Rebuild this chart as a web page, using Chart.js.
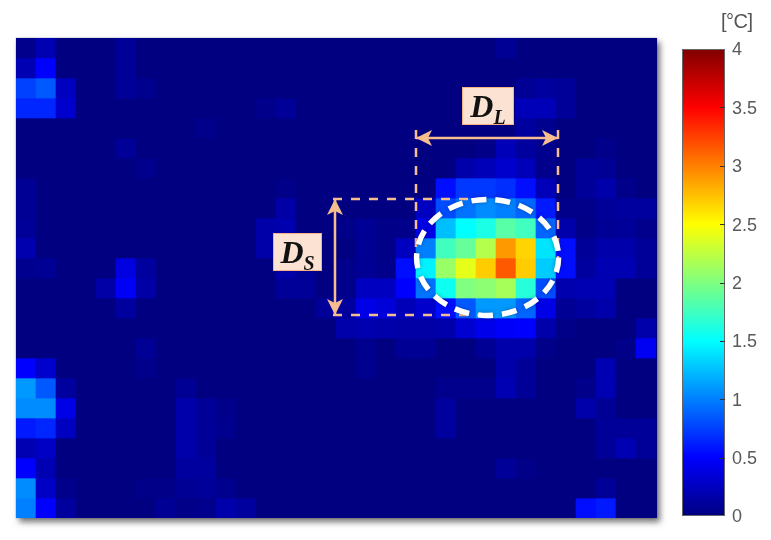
<!DOCTYPE html>
<html>
<head>
<meta charset="utf-8">
<script src="https://cdn.jsdelivr.net/npm/chart.js@4"></script>
<style>
  body { margin: 0; background: #fff; width: 771px; height: 540px; overflow: hidden; position: relative; font-family: "Liberation Sans", Arial, sans-serif; }
  #plot-shadow { position: absolute; left: 16px; top: 38px; width: 641px; height: 480px; background: #000080; box-shadow: 3px 4px 6px rgba(70,70,70,.75), 0 0 1px rgba(90,90,140,.8); }
  canvas { position: absolute; top: 0; }
  #heat { left: 0; filter: blur(.55px); }
  #bar { left: 660px; filter: blur(.3px); }
  #unit { position: absolute; left: 721px; top: 10px; font-size: 20px; letter-spacing: -.5px; color: #555; }
  .tag { position: absolute; box-sizing: border-box; background: #fbe2d2; border: 1px solid #f4b183; color: #111; text-align: center;
         font: italic bold 32px "Liberation Serif", serif; line-height: 36px; filter: blur(.3px); }
  .tag sub { font-size: 20px; line-height: 0; vertical-align: -7px; }
</style>
</head>
<body>
<div id="plot-shadow"></div>
<canvas id="heat" width="771" height="540"></canvas>
<canvas id="bar" width="111" height="540"></canvas>
<div id="unit">[°C]</div>
<div class="tag" style="left:462px;top:87px;width:52px;height:38px"><i>D<sub>L</sub></i></div>
<div class="tag" style="left:273px;top:233px;width:49px;height:38px"><i>D<sub>S</sub></i></div>
<script>
const columnCount = 32
const colourTicks = [0, 0.5, 1, 1.5, 2, 2.5, 3, 3.5, 4]

// temperature per cell in deg C, top row first
const heatRows = [
  [.05,.2,0,0,0,.1,0,0,0,0,0,0,0,0,0,0,0,0,0,0,0,0,0,0,.08,0,0,0,0,0,0,0],
  [.2,.5,0,0,0,.1,0,0,0,0,0,0,0,0,0,0,0,0,0,0,0,0,0,0,0,0,0,0,0,0,0,0],
  [.75,.85,.25,0,0,.1,.06,0,0,0,0,0,0,0,0,0,0,0,0,0,0,0,0,0,0,.08,.12,.1,0,0,0,0],
  [.65,.65,.3,0,0,0,0,0,0,0,0,0,.04,.1,0,0,0,0,0,0,0,0,0,0,0,.22,.22,.1,0,0,0,0],
  [0,0,0,0,0,0,0,0,0,.04,0,0,0,0,0,0,0,0,0,0,0,0,0,0,0,.12,.06,0,0,0,0,0],
  [0,0,0,0,0,.1,0,0,0,0,0,0,0,0,0,0,0,0,0,0,0,0,0,.03,.22,.12,.06,0,0,.04,0,0],
  [0,0,0,0,0,0,.05,0,0,0,0,0,0,0,0,0,0,0,0,0,0,0,.17,.22,.3,.22,.05,0,.1,.08,0,0],
  [.08,0,0,0,0,0,0,0,0,0,0,0,0,.03,0,0,0,0,0,0,0,.55,.72,.72,.68,.55,.22,0,.1,.17,.04,0],
  [.08,0,0,0,0,0,0,0,0,0,0,0,0,.15,0,0,0,0,0,0,.25,.8,.95,1.05,1,.9,.6,.04,.04,.1,.12,.12],
  [.1,0,0,0,0,0,0,0,0,0,0,0,.16,.18,0,0,.03,.08,.03,.04,.4,1.25,1.5,1.6,1.85,1.75,.9,.17,.03,.08,.1,.05],
  [.18,0,0,0,0,0,0,0,0,0,0,0,.16,.08,0,0,0,.08,.03,.25,1,1.75,1.9,2.2,2.9,2.67,1.4,.55,.1,.17,.17,.1],
  [.06,.08,0,0,0,.38,.12,0,0,0,0,0,0,.15,.08,0,.04,.08,.04,.55,1.45,2.1,2.4,2.7,3.15,2.7,1.3,.55,.12,.2,.2,.1],
  [0,0,0,0,.15,.47,.15,0,0,0,0,0,0,.1,.1,0,.04,.25,.25,.5,.95,1.55,2,2.05,2.15,1.65,.8,.18,.2,.2,0,0],
  [0,0,0,0,0,.12,0,0,0,0,0,0,0,0,0,.1,.12,.4,.35,.22,.3,.55,.85,1.1,1.1,.9,.4,.08,.12,.17,0,0],
  [0,0,0,0,0,0,0,0,0,0,0,0,0,0,0,0,.17,.18,.17,.15,.15,.17,.32,.42,.48,.5,.17,.03,0,0,0,.17],
  [0,0,0,0,0,0,.08,0,0,0,0,0,0,0,0,0,0,.06,0,.08,.08,0,0,.08,.17,.17,.03,0,0,0,.03,.45],
  [.5,.3,0,0,0,0,.04,0,0,0,0,0,0,0,0,0,0,.06,0,0,0,0,0,0,.17,.1,0,0,0,.2,0,0],
  [1.1,.85,.12,0,0,0,0,0,.08,0,0,0,0,0,0,0,0,0,0,0,0,.05,.05,.05,.2,.1,0,0,.04,.2,0,0],
  [1.05,1.05,.4,0,0,0,0,0,.17,.1,.04,0,0,0,0,0,0,0,0,0,0,.12,0,0,0,0,0,0,.17,.08,0,0],
  [.6,.65,.25,0,0,0,0,0,.17,.1,.06,0,0,0,0,0,0,0,0,0,0,.12,0,0,0,0,0,0,0,.1,.1,.1],
  [.2,.27,0,0,0,0,0,0,.17,.1,0,0,0,0,0,0,0,0,0,0,0,0,0,0,0,0,0,0,0,.1,.2,.1],
  [.5,.2,0,0,0,0,0,0,.12,.12,0,0,0,0,0,0,0,0,0,0,0,0,0,0,.1,.03,0,0,0,0,0,0],
  [1.05,.27,.04,0,0,0,.03,.03,.08,.1,.06,0,0,0,0,0,0,0,0,0,0,0,0,0,0,0,0,0,0,.1,0,0],
  [1,.5,.12,0,0,0,0,.08,.03,.05,.17,.12,0,0,0,0,0,0,0,0,0,0,0,0,0,0,0,0,.55,.6,0,0]
]

// marker positions, in cell units from the top left corner
const ellipseMark = { col: 23.58, row: 10.97, radiusCols: 3.55, radiusRows: 2.9 }
const widthGuideCols = [20, 27.1]
const widthGuideRows = [4.6, 11.2]
const heightGuideRows = [8.05, 13.85]
const heightGuideCols = [15.85, 23.2]
const widthArrowRow = 5
const heightArrowCol = 15.95

// jet colour map, 0 to 1
const jetStops = [[0,0,0,128],[.125,0,0,255],[.375,0,255,255],[.625,255,255,0],[.875,255,0,0],[1,128,0,0]]
function jet(t){
  t = Math.max(0, Math.min(1, t))
  for (let i = 1; i < jetStops.length; i++) {
    const a = jetStops[i-1], b = jetStops[i]
    if (t <= b[0]) {
      const f = (t - a[0]) / (b[0] - a[0])
      return `rgb(${Math.round(a[1]+(b[1]-a[1])*f)},${Math.round(a[2]+(b[2]-a[2])*f)},${Math.round(a[3]+(b[3]-a[3])*f)})`
    }
  }
}

function arrowHead(ctx, x, y, dx, dy){
  const len = 16, half = 8
  ctx.beginPath()
  ctx.moveTo(x, y)
  ctx.lineTo(x + dx*len - dy*half, y + dy*len - dx*half)
  ctx.lineTo(x + dx*len*.75, y + dy*len*.75)
  ctx.lineTo(x + dx*len + dy*half, y + dy*len + dx*half)
  ctx.closePath()
  ctx.fill()
}

const markerPlugin = {
  id: 'markers',
  afterDatasetsDraw(chart){
    const ctx = chart.ctx, sx = chart.scales.x, sy = chart.scales.y
    const px = c => sx.left + c * sx.width / columnCount
    const py = r => sy.getPixelForValue(r)
    const peach = '#f6bd8f'
    ctx.save()
    ctx.strokeStyle = peach
    ctx.fillStyle = peach
    ctx.lineWidth = 2.5
    ctx.setLineDash([9, 9])
    widthGuideCols.forEach(c => {
      ctx.beginPath(); ctx.moveTo(px(c), py(widthGuideRows[0])); ctx.lineTo(px(c), py(widthGuideRows[1])); ctx.stroke()
    })
    heightGuideRows.forEach(r => {
      ctx.beginPath(); ctx.moveTo(px(heightGuideCols[0]), py(r)); ctx.lineTo(px(heightGuideCols[1]), py(r)); ctx.stroke()
    })
    ctx.setLineDash([])
    // width arrow
    const ax0 = px(widthGuideCols[0]), ax1 = px(widthGuideCols[1]), ay = py(widthArrowRow)
    ctx.beginPath(); ctx.moveTo(ax0, ay); ctx.lineTo(ax1, ay); ctx.stroke()
    arrowHead(ctx, ax0, ay, 1, 0)
    arrowHead(ctx, ax1, ay, -1, 0)
    // height arrow
    const bx = px(heightArrowCol), by0 = py(heightGuideRows[0]), by1 = py(heightGuideRows[1])
    ctx.beginPath(); ctx.moveTo(bx, by0); ctx.lineTo(bx, by1); ctx.stroke()
    arrowHead(ctx, bx, by0, 0, 1)
    arrowHead(ctx, bx, by1, 0, -1)
    // ellipse
    ctx.strokeStyle = '#fff'
    ctx.lineWidth = 5.5
    ctx.setLineDash([15, 9])
    ctx.shadowColor = 'rgba(0,0,40,.35)'
    ctx.shadowBlur = 4
    ctx.beginPath()
    ctx.ellipse(px(ellipseMark.col), py(ellipseMark.row), ellipseMark.radiusCols * sx.width / columnCount,
      Math.abs(py(ellipseMark.radiusRows) - py(0)), 0, 0, Math.PI * 2)
    ctx.stroke()
    ctx.restore()
  }
}

new Chart(document.getElementById('heat'), {
  type: 'bar',
  data: {
    labels: heatRows[0].map((v, i) => i),
    datasets: heatRows.map(row => ({
      data: row.map(() => 1),
      temps: row,
      backgroundColor: row.map(v => jet(v / 4)),
      barPercentage: 1,
      categoryPercentage: 1,
      borderWidth: 0,
      borderSkipped: false
    }))
  },
  options: {
    responsive: false,
    animation: false,
    layout: { padding: { left: 16, top: 38, right: 115, bottom: 22 } },
    plugins: { legend: { display: false }, tooltip: { enabled: false } },
    scales: {
      x: { display: false, stacked: true },
      y: { display: false, stacked: true, reverse: true, min: 0, max: heatRows.length }
    }
  },
  plugins: [markerPlugin]
})

const barFramePlugin = {
  id: 'barFrame',
  afterDatasetsDraw(chart){
    const ctx = chart.ctx, a = chart.chartArea, sy = chart.scales.y
    ctx.save()
    ctx.strokeStyle = '#666'
    ctx.lineWidth = 1
    ctx.strokeRect(a.left + .5, a.top + .5, a.width - 1, a.height - 1)
    ctx.strokeStyle = '#333'
    colourTicks.slice(1, -1).forEach(v => {
      const y = Math.round(sy.getPixelForValue(v)) + .5
      ctx.beginPath(); ctx.moveTo(a.right - 5, y); ctx.lineTo(a.right, y); ctx.stroke()
    })
    ctx.restore()
  }
}

new Chart(document.getElementById('bar'), {
  type: 'bar',
  data: {
    labels: ['temperature'],
    datasets: [{
      data: [colourTicks[colourTicks.length - 1]],
      barPercentage: 1,
      categoryPercentage: 1,
      backgroundColor(c){
        const a = c.chart.chartArea
        if (!a) return '#000'
        const g = c.chart.ctx.createLinearGradient(0, a.bottom, 0, a.top)
        jetStops.forEach(s => g.addColorStop(s[0], `rgb(${s[1]},${s[2]},${s[3]})`))
        return g
      }
    }]
  },
  options: {
    responsive: false,
    animation: false,
    layout: { padding: { left: 22, top: 49, right: 0, bottom: 24 } },
    plugins: { legend: { display: false }, tooltip: { enabled: false } },
    scales: {
      x: { display: false },
      y: {
        position: 'right',
        min: 0,
        max: 4,
        afterFit(s){ s.width = 46 },
        border: { display: false },
        grid: { drawOnChartArea: false, drawTicks: false },
        afterBuildTicks(s){ s.ticks = colourTicks.map(v => ({ value: v })) },
        ticks: {
          padding: 7,
          color: '#595959',
          autoSkip: false,
          labelOffset: 1.5,
          font: { family: '"Liberation Sans", Arial', size: 18 },
          callback: v => String(v)
        }
      }
    }
  },
  plugins: [barFramePlugin]
})
</script>
</body>
</html>
